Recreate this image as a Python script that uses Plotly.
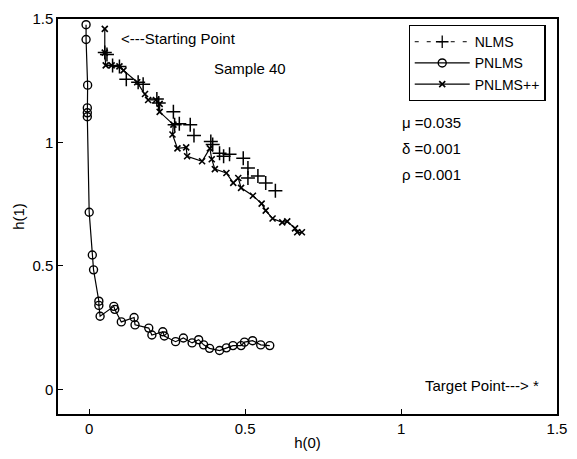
import plotly.graph_objects as go

# PNLMS (circles, solid line)
pnlms_x = [-0.010, -0.010, -0.005, -0.006, -0.006, -0.006, 0.000, 0.010, 0.014, 0.031, 0.031, 0.035,
           0.079, 0.082, 0.103, 0.144, 0.147, 0.191, 0.201, 0.236, 0.241, 0.277, 0.302, 0.330,
           0.351, 0.367, 0.386, 0.418, 0.440, 0.461, 0.487, 0.498, 0.524, 0.550, 0.579]
pnlms_y = [1.477, 1.417, 1.232, 1.140, 1.120, 1.104, 0.717, 0.544, 0.484, 0.357, 0.340, 0.296,
           0.336, 0.324, 0.273, 0.291, 0.261, 0.248, 0.220, 0.233, 0.216, 0.193, 0.208, 0.188,
           0.201, 0.180, 0.166, 0.157, 0.168, 0.177, 0.177, 0.191, 0.197, 0.180, 0.177]

# NLMS (plus markers)
nlms_x = [0.050, 0.057, 0.075, 0.097, 0.119, 0.157, 0.173, 0.217, 0.223, 0.270, 0.274, 0.289,
          0.324, 0.336, 0.390, 0.396, 0.418, 0.431, 0.450, 0.494, 0.509, 0.509, 0.541, 0.566, 0.597]
nlms_y = [1.364, 1.356, 1.312, 1.308, 1.256, 1.244, 1.236, 1.176, 1.160, 1.124, 1.072, 1.076,
          1.072, 1.028, 1.004, 0.992, 0.956, 0.944, 0.952, 0.936, 0.896, 0.856, 0.864, 0.836, 0.804]

# PNLMS++ (x markers, line)
pp_x = [0.050, 0.050, 0.053, 0.072, 0.097, 0.110, 0.154, 0.179, 0.189, 0.214, 0.226, 0.226,
        0.270, 0.267, 0.283, 0.311, 0.314, 0.362, 0.387, 0.393, 0.403, 0.440, 0.462, 0.478,
        0.487, 0.525, 0.553, 0.566, 0.588, 0.619, 0.635, 0.660, 0.667, 0.682]
pp_y = [1.460, 1.364, 1.312, 1.312, 1.308, 1.292, 1.244, 1.196, 1.172, 1.172, 1.156, 1.124,
        1.072, 1.032, 0.976, 0.980, 0.944, 0.924, 0.976, 0.932, 0.892, 0.876, 0.836, 0.856,
        0.816, 0.784, 0.752, 0.724, 0.692, 0.676, 0.680, 0.652, 0.636, 0.636]

x_ticks = [0, 0.5, 1, 1.5]
y_ticks = [0, 0.5, 1, 1.5]

FONT = "Liberation Sans, Arial, sans-serif"
FS = 15
fig = go.Figure()

fig.add_trace(go.Scatter(x=nlms_x, y=nlms_y, mode="markers", showlegend=False,
                         marker=dict(symbol="cross-thin", size=10, color="black",
                                     line=dict(width=1.5, color="black"))))
fig.add_trace(go.Scatter(x=[None], y=[None], mode="lines+markers", name="NLMS",
                         line=dict(color="black", width=1, dash="4px,8px"),
                         marker=dict(symbol="cross-thin", size=9, color="black",
                                     line=dict(width=1.3, color="black"))))
fig.add_trace(go.Scatter(x=pnlms_x, y=pnlms_y, mode="lines+markers", name="PNLMS",
                         line=dict(color="black", width=1.2),
                         marker=dict(symbol="circle-open", size=8, color="black",
                                     line=dict(width=1.4, color="black"))))
fig.add_trace(go.Scatter(x=pp_x, y=pp_y, mode="lines+markers", name="PNLMS++",
                         line=dict(color="black", width=1.2),
                         marker=dict(symbol="x-thin", size=6, color="black",
                                     line=dict(width=1.6, color="black"))))

annots = [
    dict(x=0.094, y=1.42, text="<---Starting Point", xanchor="left"),
    dict(x=0.393, y=1.30, text="Sample 40", xanchor="left"),
    dict(x=0.997, y=1.08, text="μ =0.035", xanchor="left"),
    dict(x=0.997, y=0.975, text="δ =0.001", xanchor="left"),
    dict(x=0.997, y=0.87, text="ρ =0.001", xanchor="left"),
    dict(x=1.45, y=0.017, text="Target Point---> *", xanchor="right"),
]
for a in annots:
    fig.add_annotation(x=a["x"], y=a["y"], text=a["text"], xanchor=a["xanchor"],
                       yanchor="middle", showarrow=False,
                       font=dict(family=FONT, size=FS, color="black"))

axis_common = dict(showgrid=False, zeroline=False, showline=True, linecolor="black",
                   linewidth=1.5, mirror=True, ticks="inside", ticklen=5,
                   tickcolor="black", tickfont=dict(family=FONT, size=FS, color="black"))
fig.update_xaxes(range=[-0.1, 1.5], tickvals=x_ticks, ticktext=["0", "0.5", "1", "1.5"],
                 title=dict(text="h(0)", font=dict(family=FONT, size=FS, color="black"), standoff=2),
                 **axis_common)
fig.update_yaxes(range=[-0.1, 1.5], tickvals=y_ticks, ticktext=["0", "0.5", "1", "1.5"],
                 title=dict(text="h(1)", font=dict(family=FONT, size=FS, color="black"), standoff=4),
                 **axis_common)

fig.update_layout(
    width=577, height=459,
    margin=dict(l=58, r=10, t=16, b=43),
    paper_bgcolor="white", plot_bgcolor="white",
    legend=dict(x=0.977, y=0.985, xanchor="right", yanchor="top",
                bgcolor="white", bordercolor="black", borderwidth=1.2,
                font=dict(family=FONT, size=14, color="black"),
                itemwidth=55, tracegroupgap=0),
    showlegend=True,
)

fig.write_html("out.html")
